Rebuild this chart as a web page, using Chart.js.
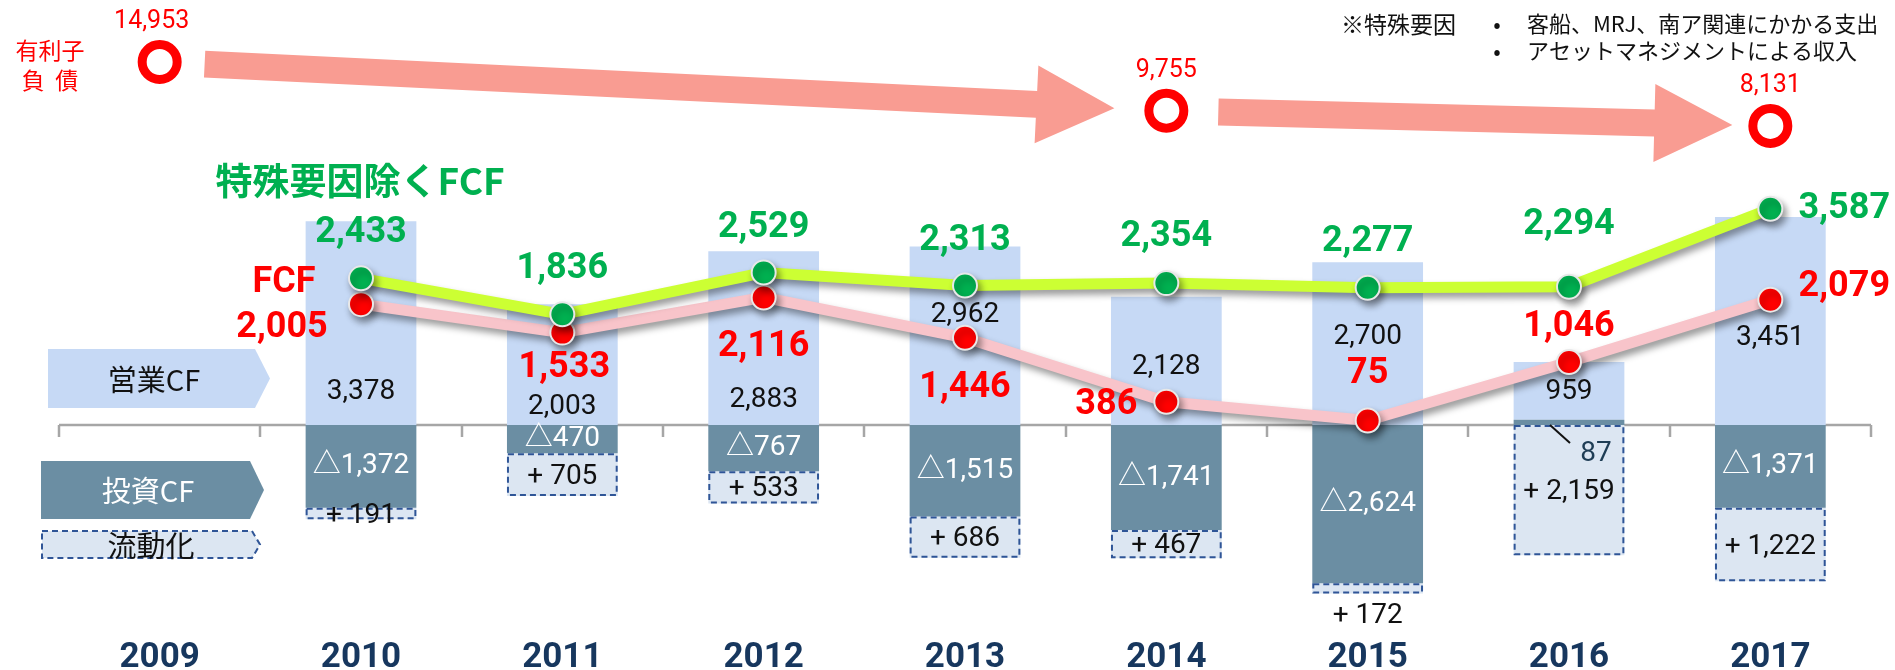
<!DOCTYPE html>
<html>
<head>
<meta charset="utf-8">
<script src="https://cdn.jsdelivr.net/npm/chart.js@4.4.1/dist/chart.umd.min.js"></script>
<style>
  html, body { margin: 0; padding: 0; background: #fff; }
</style>
</head>
<body>
<canvas id="cf" width="1895" height="670"></canvas>
<script>
// data (百万円)
const years = ["2009", "2010", "2011", "2012", "2013", "2014", "2015", "2016", "2017"];
const operatingCF = [null, 3378, 2003, 2883, 2962, 2128, 2700, 959, 3451];
const investingCF = [null, -1372, -470, -767, -1515, -1741, -2624, 87, -1371];
const liquidation = [null, 191, 705, 533, 686, 467, 172, 2159, 1222];
const fcf = [null, 2005, 1533, 2116, 1446, 386, 75, 1046, 2079];
const fcfExSpecial = [null, 2433, 1836, 2529, 2313, 2354, 2277, 2294, 3587];
const debt = [14953, null, null, null, null, 9755, null, null, 8131];

// label placement (pixels)
const opLabelRise = [0, 33, 18, 25, 110, 58, 88, 33, 87];
const greenLabelOff = [[0, 0], [0, -45], [0, -45], [0, -45], [0, -45], [0, -46], [0, -46], [0, -62], [74, 0]];
const redLabelOff = [[0, 0], [-79, 24], [2, 35], [0, 50], [0, 50], [-60, 3], [0, -47], [0, -35], [74, -13]];

const GREEN = "#00B050";
const RED = "#FF0000";
const NAVY = "#17375E";
const OP_BLUE = "#C6D9F5";
const INV_SLATE = "#6B8EA3";
const LIQ_FILL = "#DCE6F2";
const DASH_BLUE = "#2F5597";
const ARROW = "#F99C92";
const NUM = 'Roboto, "Noto Sans CJK JP", sans-serif';
const JP = '"Noto Sans CJK JP", sans-serif';

const fmt = (v) => v.toLocaleString("en-US");

function txt(ctx, s, x, y, font, color, align) {
  ctx.font = font;
  ctx.fillStyle = color;
  ctx.textAlign = align || "center";
  ctx.textBaseline = "middle";
  ctx.fillText(s, x, y);
}

function pentagon(ctx, x, y, w, h, tip) {
  ctx.beginPath();
  ctx.moveTo(x, y);
  ctx.lineTo(x + w - tip, y);
  ctx.lineTo(x + w, y + h / 2);
  ctx.lineTo(x + w - tip, y + h);
  ctx.lineTo(x, y + h);
  ctx.closePath();
}

function arrow(ctx, a, b, gapStart, gapEnd) {
  const dx = b.x - a.x, dy = b.y - a.y;
  const len = Math.hypot(dx, dy);
  const ux = dx / len, uy = dy / len;
  const nx = -uy, ny = ux;
  const sx = a.x + ux * gapStart, sy = a.y + uy * gapStart;
  const tx = b.x - ux * gapEnd, ty = b.y - uy * gapEnd;
  const shaft = 13.5, head = 39, headLen = 78;
  const hx = tx - ux * headLen, hy = ty - uy * headLen;
  ctx.beginPath();
  ctx.moveTo(sx + nx * shaft, sy + ny * shaft);
  ctx.lineTo(hx + nx * shaft, hy + ny * shaft);
  ctx.lineTo(hx + nx * head, hy + ny * head);
  ctx.lineTo(tx, ty);
  ctx.lineTo(hx - nx * head, hy - ny * head);
  ctx.lineTo(hx - nx * shaft, hy - ny * shaft);
  ctx.lineTo(sx - nx * shaft, sy - ny * shaft);
  ctx.closePath();
  ctx.fillStyle = ARROW;
  ctx.fill();
}

// zero line, tick marks, side labels, arrows
const backdrop = {
  id: "backdrop",
  beforeDatasetsDraw(chart) {
    const ctx = chart.ctx;
    const y = chart.scales.y;
    const z = y.getPixelForValue(0);
    const left = chart.chartArea.left, right = chart.chartArea.right;
    const step = (right - left) / years.length;
    ctx.save();
    ctx.strokeStyle = "#A6A6A6";
    ctx.lineWidth = 2.5;
    ctx.beginPath();
    ctx.moveTo(left, z);
    ctx.lineTo(right, z);
    for (let i = 0; i <= years.length; i++) {
      const px = Math.round(left + i * step);
      ctx.moveTo(px, z);
      ctx.lineTo(px, z + 12);
    }
    ctx.stroke();

    // side captions
    pentagon(ctx, 48, z - 76, 222, 59, 15);
    ctx.fillStyle = OP_BLUE;
    ctx.fill();
    txt(ctx, "営業CF", 154, z - 45, "29px " + JP, "#111");

    pentagon(ctx, 41, z + 36, 223, 58, 14);
    ctx.fillStyle = INV_SLATE;
    ctx.fill();
    txt(ctx, "投資CF", 148, z + 66, "29px " + JP, "#fff");

    pentagon(ctx, 42, z + 106, 218, 27, 8);
    ctx.fillStyle = LIQ_FILL;
    ctx.fill();
    ctx.setLineDash([6, 4]);
    ctx.strokeStyle = DASH_BLUE;
    ctx.lineWidth = 2;
    ctx.stroke();
    ctx.setLineDash([]);
    txt(ctx, "流動化", 151, z + 121, "29px " + JP, "#111");

    // debt arrows
    const pts = chart.getDatasetMeta(5).data.filter((p, i) => debt[i] !== null);
    for (let i = 0; i + 1 < pts.length; i++) {
      arrow(ctx, pts[i], pts[i + 1], i === 0 ? 45 : 52, i === 0 ? 52 : 38);
    }
    ctx.restore();
  },
  beforeDatasetDraw(chart, args) {
    if (args.index < 2) {
      const ctx = chart.ctx;
      ctx.save();
      ctx.shadowColor = "rgba(0,0,0,0.4)";
      ctx.shadowBlur = 7;
      ctx.shadowOffsetX = 3;
      ctx.shadowOffsetY = 5;
    }
  },
  afterDatasetDraw(chart, args) {
    if (args.index < 2) chart.ctx.restore();
  }
};

// dashed boxes and all value labels
const labels = {
  id: "labels",
  afterDatasetsDraw(chart) {
    const ctx = chart.ctx;
    const z = chart.scales.y.getPixelForValue(0);
    ctx.save();

    const liqMeta = chart.getDatasetMeta(4);
    liqMeta.data.forEach((el, i) => {
      if (liquidation[i] === null) return;
      const top = Math.min(el.y, el.base), h = Math.abs(el.y - el.base);
      ctx.setLineDash([6, 4]);
      ctx.strokeStyle = DASH_BLUE;
      ctx.lineWidth = 2;
      ctx.strokeRect(el.x - el.width / 2 + 1, top + 1, el.width - 2, h - 2);
      ctx.setLineDash([]);
      const ly = i === 6 ? top + h + 22 : top + h / 2 + 2;
      txt(ctx, "+ " + fmt(liquidation[i]), el.x, ly, "28px " + NUM, "#111");
    });

    const opMeta = chart.getDatasetMeta(3);
    opMeta.data.forEach((el, i) => {
      if (operatingCF[i] === null) return;
      txt(ctx, fmt(operatingCF[i]), el.x, z - opLabelRise[i], "28px " + NUM, "#111");
    });

    const invMeta = chart.getDatasetMeta(2);
    invMeta.data.forEach((el, i) => {
      const v = investingCF[i];
      if (v === null) return;
      if (v < 0) {
        txt(ctx, "△" + fmt(-v), el.x, (el.y + el.base) / 2, "28px " + NUM, "#fff");
      } else {
        ctx.strokeStyle = "#111";
        ctx.lineWidth = 2;
        ctx.beginPath();
        ctx.moveTo(el.x - 19, z);
        ctx.lineTo(el.x + 1, z + 18);
        ctx.stroke();
        txt(ctx, fmt(v), el.x + 27, z + 29, "28px " + NUM, "#1F3D55");
      }
    });

    chart.getDatasetMeta(0).data.forEach((p, i) => {
      if (fcfExSpecial[i] === null) return;
      const o = greenLabelOff[i];
      txt(ctx, fmt(fcfExSpecial[i]), p.x + o[0], p.y + o[1], "bold 36px " + NUM, GREEN);
    });

    const fm = chart.getDatasetMeta(1).data;
    fm.forEach((p, i) => {
      if (fcf[i] === null) return;
      const o = redLabelOff[i];
      txt(ctx, fmt(fcf[i]), p.x + o[0], p.y + o[1], "bold 36px " + NUM, RED);
    });
    txt(ctx, "FCF", fm[1].x - 77, fm[1].y - 21, "bold 36px " + NUM, RED);

    chart.getDatasetMeta(5).data.forEach((p, i) => {
      if (debt[i] === null) return;
      txt(ctx, fmt(debt[i]), p.x + (i === 0 ? -8 : 0), p.y - 40, "25px " + NUM, RED);
    });
    txt(ctx, "有利子", 50, 50, "23px " + JP, RED);
    txt(ctx, "負  債", 50, 80, "23px " + JP, RED);

    txt(ctx, "特殊要因除くFCF", 360, 181, "bold 37px " + JP, GREEN);

    txt(ctx, "※特殊要因", 1341, 24, "23px " + JP, "#111", "left");
    txt(ctx, "•", 1497, 24, "22px " + JP, "#111");
    txt(ctx, "•", 1497, 51, "22px " + JP, "#111");
    txt(ctx, "客船、MRJ、南ア関連にかかる支出", 1527, 24, "22px " + JP, "#111", "left");
    txt(ctx, "アセットマネジメントによる収入", 1527, 51, "22px " + JP, "#111", "left");

    ctx.restore();
  }
};

new Chart(document.getElementById("cf"), {
  data: {
    labels: years,
    datasets: [
      {
        type: "line", label: "特殊要因除くFCF", data: fcfExSpecial, stack: "l1", order: 0,
        borderColor: "#CCFF33", borderWidth: 11,
        pointBackgroundColor: GREEN, pointBorderColor: "#E8E8E8", pointBorderWidth: 2, pointRadius: 12
      },
      {
        type: "line", label: "FCF", data: fcf, stack: "l2", order: 1,
        borderColor: "#F8C4CA", borderWidth: 11,
        pointBackgroundColor: RED, pointBorderColor: "#E8E8E8", pointBorderWidth: 2, pointRadius: 12
      },
      {
        type: "bar", label: "投資CF", data: investingCF, stack: "cf", order: 5,
        backgroundColor: INV_SLATE
      },
      {
        type: "bar", label: "営業CF", data: operatingCF, stack: "cf", order: 6,
        backgroundColor: OP_BLUE
      },
      {
        type: "bar", label: "流動化", data: liquidation.map((v) => (v === null ? null : -v)), stack: "cf", order: 7,
        backgroundColor: LIQ_FILL
      },
      {
        type: "line", label: "有利子負債", data: debt, yAxisID: "y2", order: 2, showLine: false,
        pointBackgroundColor: "#fff", pointBorderColor: RED, pointBorderWidth: 9, pointRadius: 17.5
      }
    ]
  },
  options: {
    responsive: false,
    animation: false,
    events: [],
    layout: { autoPadding: false, padding: { top: 9, left: 59, right: 24, bottom: 0 } },
    datasets: { bar: { categoryPercentage: 0.55, barPercentage: 1 } },
    plugins: { legend: { display: false }, tooltip: { enabled: false } },
    scales: {
      x: {
        stacked: true,
        grid: { display: false, drawTicks: false },
        border: { display: false },
        ticks: { padding: 13, color: NAVY, font: { family: NUM, size: 35, weight: "bold" } },
        afterFit: (s) => { s.height = 46; }
      },
      y: { stacked: true, display: false, min: -3300, max: 6900 },
      y2: { display: false, min: -45000, max: 20600 }
    }
  },
  plugins: [backdrop, labels]
});
</script>
</body>
</html>
